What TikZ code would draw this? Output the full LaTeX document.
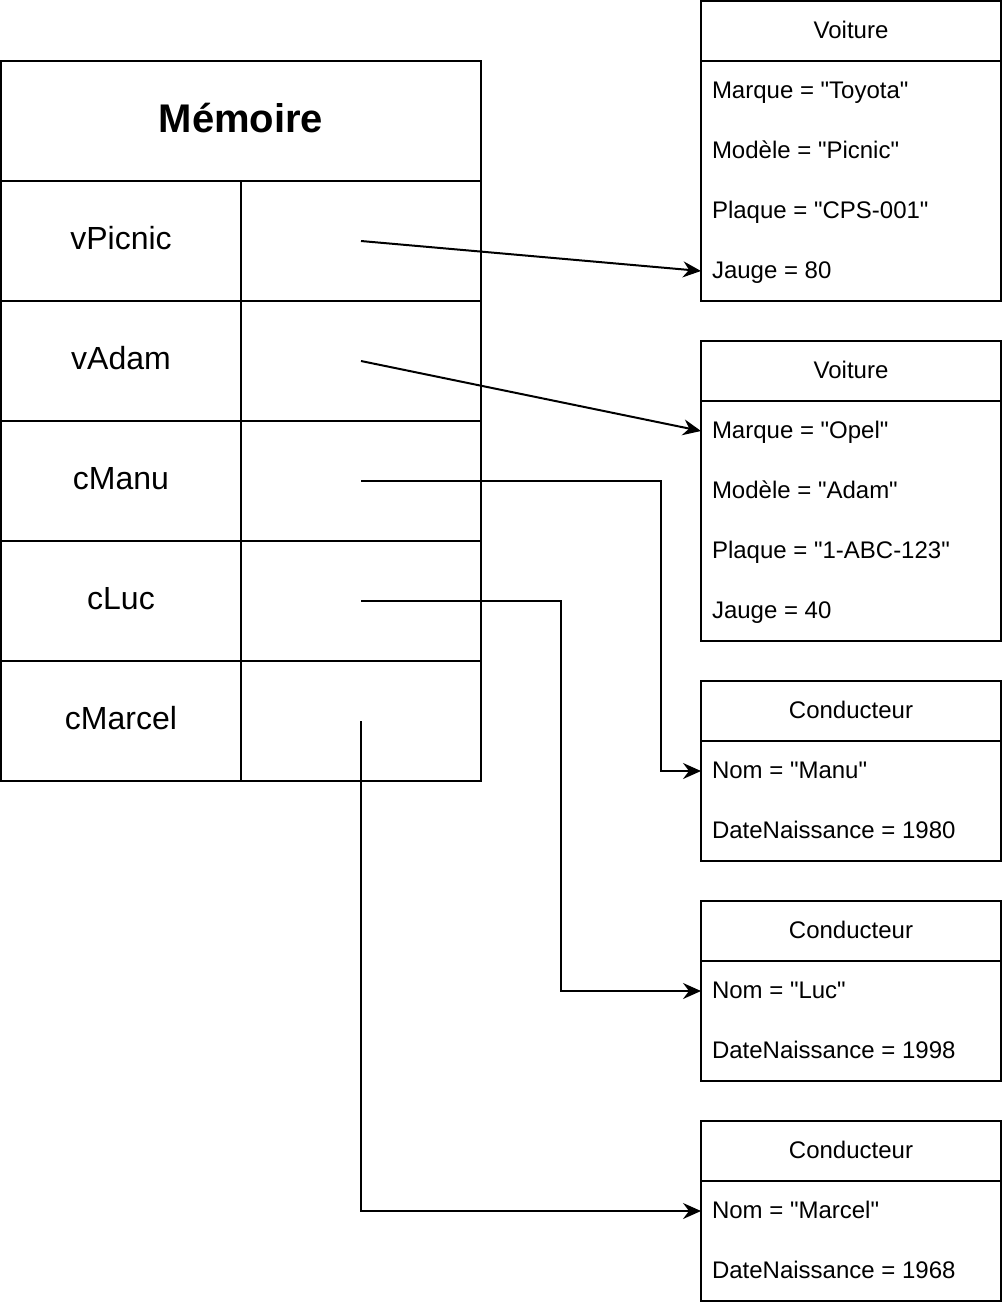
\documentclass[tikz,border=0pt]{standalone}
\usepackage{fontspec}
\setmainfont{Liberation Sans}[Ligatures=TeXOff]
\usetikzlibrary{arrows.meta}
\tikzset{
	cell/.style={draw,minimum width=120pt,minimum height=60pt,inner sep=0pt,outer sep=0pt,text height=8.4pt,text depth=0pt,font=\fontsize{16}{19}\selectfont},
	titre/.style={draw,minimum width=150pt,minimum height=30pt,inner sep=0pt,outer sep=0pt,text height=7pt,text depth=0pt,font=\fontsize{12}{14}\selectfont},
	corps/.style={draw,minimum width=150pt,inner sep=0pt,outer sep=0pt,anchor=north},
	champ/.style={anchor=west,inner xsep=5.5pt,inner ysep=0pt,outer sep=0pt,text height=7.4pt,text depth=0pt,font=\fontsize{12}{14}\selectfont},
	fleche/.style={-{Stealth[length=9pt,width=8pt,inset=3pt]}}
}
\begin{document}
\begin{tikzpicture}[x=0.5pt,y=-0.5pt,line width=1pt]
\useasboundingbox (0,0) rectangle (1002,1302);
\node[draw,minimum width=240pt,minimum height=60pt,inner sep=0pt,outer sep=0pt,text height=11.4pt,text depth=0pt,font=\bfseries\fontsize{20}{24}\selectfont,name=m0] at (241,121){Mémoire};
\foreach \i/\n in {1/vPicnic,2/vAdam,3/cManu,4/cLuc,5/cMarcel}{
	\node[cell,name=m\i] at (121,{121+120*\i}){\n};
	\node[cell,name=p\i] at (361,{121+120*\i}){};
};
\foreach \b/\y/\t/\h in {v1/31/Voiture/120pt,v2/371/Voiture/120pt,c1/711/Conducteur/60pt,c2/931/Conducteur/60pt,c3/1151/Conducteur/60pt}{
	\node[titre,name=\b] at (851,\y){\t};
	\node[corps,minimum height=\h] at (\b.south){};
};
\foreach \b/\k/\y/\s in {v1/1/91/Marque = "Toyota",v1/2/151/Modèle = "Picnic",v1/3/211/Plaque = "CPS-001",v1/4/271/Jauge = 80,
	v2/1/431/Marque = "Opel",v2/2/491/Modèle = "Adam",v2/3/551/Plaque = "1-ABC-123",v2/4/611/Jauge = 40,
	c1/1/771/Nom = "Manu",c1/2/831/DateNaissance = 1980,c2/1/991/Nom = "Luc",c2/2/1051/DateNaissance = 1998,
	c3/1/1211/Nom = "Marcel",c3/2/1271/DateNaissance = 1968}{
	\node[champ,name=\b\k] at (701,\y){\s};
};
\draw[fleche] (p1.center)--(v14.west);
\draw[fleche] (p2.center)--(v21.west);
\draw[fleche] (p3.center)--++(300,0)|-(c11.west);
\draw[fleche] (p4.center)--++(200,0)|-(c21.west);
\draw[fleche] (p5.center)|-(c31.west);
\end{tikzpicture}
\end{document}
